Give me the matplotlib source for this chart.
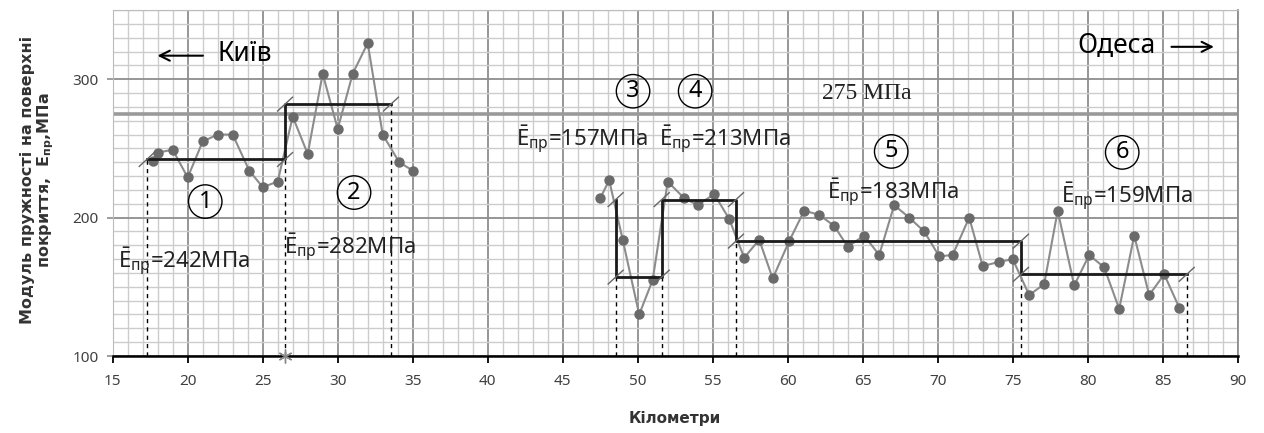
import numpy as np
import matplotlib
matplotlib.use('Agg')
import matplotlib.pyplot as plt

plt.rcParams['font.family'] = ['Noto Sans', 'DejaVu Sans']
plt.rcParams['mathtext.fontset'] = 'custom'
plt.rcParams['mathtext.rm'] = 'Noto Sans'
plt.rcParams['mathtext.it'] = 'Noto Sans:italic'
plt.rcParams['mathtext.bf'] = 'DejaVu Sans:bold'

# measured points, first stretch (Київ side)
km_a = [17.7, 18.0, 19.0, 20.0, 21.0, 22.0, 23.0, 24.1, 25.0, 26.0,
        27.0, 28.0, 29.0, 30.0, 31.0, 32.0, 33.0, 34.1, 35.0]
e_a = [241, 247, 249, 229, 255, 260, 260, 234, 222, 226,
       273, 246, 304, 264, 304, 326, 260, 240, 234]

# measured points, second stretch (Одеса side)
km_b = [47.5, 48.1, 49.0, 50.1, 51.0, 52.0, 53.1, 54.0, 55.1, 56.1,
        57.1, 58.1, 59.0, 60.1, 61.1, 62.1, 63.1, 64.0, 65.1, 66.1,
        67.1, 68.1, 69.1, 70.1, 71.0, 72.1, 73.0, 74.1, 75.0, 76.1,
        77.1, 78.0, 79.1, 80.1, 81.1, 82.1, 83.1, 84.1, 85.1, 86.1]
e_b = [214, 227, 184, 130, 155, 226, 214, 209, 217, 199,
       171, 184, 156, 183, 205, 202, 194, 179, 187, 173,
       209, 200, 190, 172, 173, 200, 165, 168, 170, 144,
       152, 205, 151, 173, 164, 134, 187, 144, 159, 135]

# homogeneous sections: bounds and mean modulus
sec_a_bounds = [17.27, 26.49, 33.55]
sec_a_means = [242, 282]
sec_b_bounds = [48.53, 51.6, 56.55, 75.55, 86.6]
sec_b_means = [157, 213, 183, 159]
sec_b_start = 213

sec_numbers = ['1', '2', '3', '4', '5', '6']
sec_num_pos = [(21.17, 211.6), (31.09, 218.1), (49.69, 291.3),
               (53.83, 291.3), (66.9, 247.8), (82.3, 247.1)]
mean_labels = [242, 282, 157, 213, 183, 159]
mean_label_pos = [(15.35, 168), (26.4, 178), (41.9, 256.5),
                  (51.4, 256.5), (62.6, 218), (78.2, 215)]
e_limit = 275


def step_xy(bounds, means):
    xs, ys = [], []
    for i, m in enumerate(means):
        xs += [bounds[i], bounds[i + 1]]
        ys += [m, m]
    return xs, ys


fig = plt.figure(figsize=(12.64, 4.33), dpi=100)
ax = fig.add_axes([112.7 / 1264, 1 - 356 / 433, 1125 / 1264, 346 / 433])

ax.set_xlim(15, 90)
ax.set_ylim(100, 350)
ax.set_xticks(np.arange(15, 91, 5))
ax.set_xticks(np.arange(15, 91, 1), minor=True)
ax.set_yticks([100, 200, 300])
ax.set_yticks(np.arange(100, 351, 10), minor=True)
ax.grid(which='minor', color='#cccccc', lw=1.0)
ax.grid(which='major', color='#8e8e8e', lw=1.3)
ax.set_axisbelow(True)
ax.tick_params(which='minor', length=0)
ax.tick_params(axis='x', which='major', length=5, width=1.3, color='black',
               labelsize=11, labelcolor='#404040', pad=8)
ax.tick_params(axis='y', which='major', length=4, width=1.2, color='#8e8e8e',
               labelsize=11, labelcolor='#404040', pad=6)
for s in ['left', 'top']:
    ax.spines[s].set_color('#bbbbbb')
ax.spines['right'].set_color('#8e8e8e')
ax.spines['right'].set_linewidth(1.3)
ax.spines['bottom'].set_color('black')
ax.spines['bottom'].set_linewidth(1.8)

# limit line
ax.axhline(e_limit, color='#9a9a9a', lw=2.6, zorder=1)
ax.text(62.3, 290, f'{e_limit} МПа', family='Liberation Serif', fontsize=17,
        va='center', ha='left', color='#222222')

# measurements
for kx, ey in [(km_a, e_a), (km_b, e_b)]:
    ax.plot(kx, ey, color='#8c8c8c', lw=1.5, marker='o', ms=6.5,
            mfc='#6a6a6a', mec='#6a6a6a', zorder=3)

# mean steps
xs, ys = step_xy(sec_a_bounds, sec_a_means)
ax.plot(xs, ys, color='#1a1a1a', lw=2.0, zorder=4)
xs, ys = step_xy(sec_b_bounds, sec_b_means)
ax.plot([sec_b_bounds[0]] + xs, [sec_b_start] + ys, color='#1a1a1a', lw=2.0, zorder=4)

# corner slashes and dashed drop lines
corners = []
for bounds, means in [(sec_a_bounds, sec_a_means), (sec_b_bounds, sec_b_means)]:
    for i, b in enumerate(bounds):
        levels = []
        if i > 0:
            levels.append(means[i - 1])
        if i < len(means):
            levels.append(means[i])
        if i == 0 and bounds is sec_b_bounds:
            levels.append(sec_b_start)
        for lv in levels:
            corners.append((b, lv))
        ax.plot([b, b], [100, min(levels)], color='black', lw=1.0,
                ls=(0, (3, 3)), zorder=2)
for cx, cy in corners:
    ax.plot([cx - 0.5, cx + 0.5], [cy - 5, cy + 5], color='#666666', lw=1.0, zorder=4)

ax.plot([sec_a_bounds[1]], [100], marker=(6, 2, 0), ms=10, color='#888888',
        mew=1.0, clip_on=False, zorder=5)

# section numbers
for n, (px, py) in zip(sec_numbers, sec_num_pos):
    ax.text(px, py, n, fontsize=17, ha='center', va='center', zorder=5,
            bbox=dict(boxstyle='circle,pad=0.2', fc='none', ec='black', lw=1.0))

# mean labels
for m, (px, py) in zip(mean_labels, mean_label_pos):
    ax.text(px, py, r'$\bar{\mathrm{E}}_{\mathrm{пр}}$' + f'={m}МПа', fontsize=16,
            ha='left', va='center', color='#222222', zorder=5)

# direction arrows
ax.annotate('', xy=(17.8, 317), xytext=(21.2, 317),
            arrowprops=dict(arrowstyle='->', lw=1.5, color='black', mutation_scale=18))
ax.text(22.0, 318, 'Київ', fontsize=19, ha='left', va='center')
ax.text(79.3, 324, 'Одеса', fontsize=19, ha='left', va='center')
ax.annotate('', xy=(88.6, 323.4), xytext=(85.4, 323.4),
            arrowprops=dict(arrowstyle='->', lw=1.5, color='black', mutation_scale=18))

ax.set_xlabel('Кілометри', family='DejaVu Sans', fontsize=11, fontweight='bold',
              color='#333333', labelpad=16)
fig.text(38 / 1264, 1 - 180 / 433,
         'Модуль пружності на поверхні\nпокриття,  E$_{\\mathbf{пр}}$,МПа',
         family='DejaVu Sans', rotation=90, ha='center', va='center',
         fontsize=11.5, fontweight='bold', color='#333333',
         multialignment='center', linespacing=1.1)

fig.savefig('out.png', dpi=100)
